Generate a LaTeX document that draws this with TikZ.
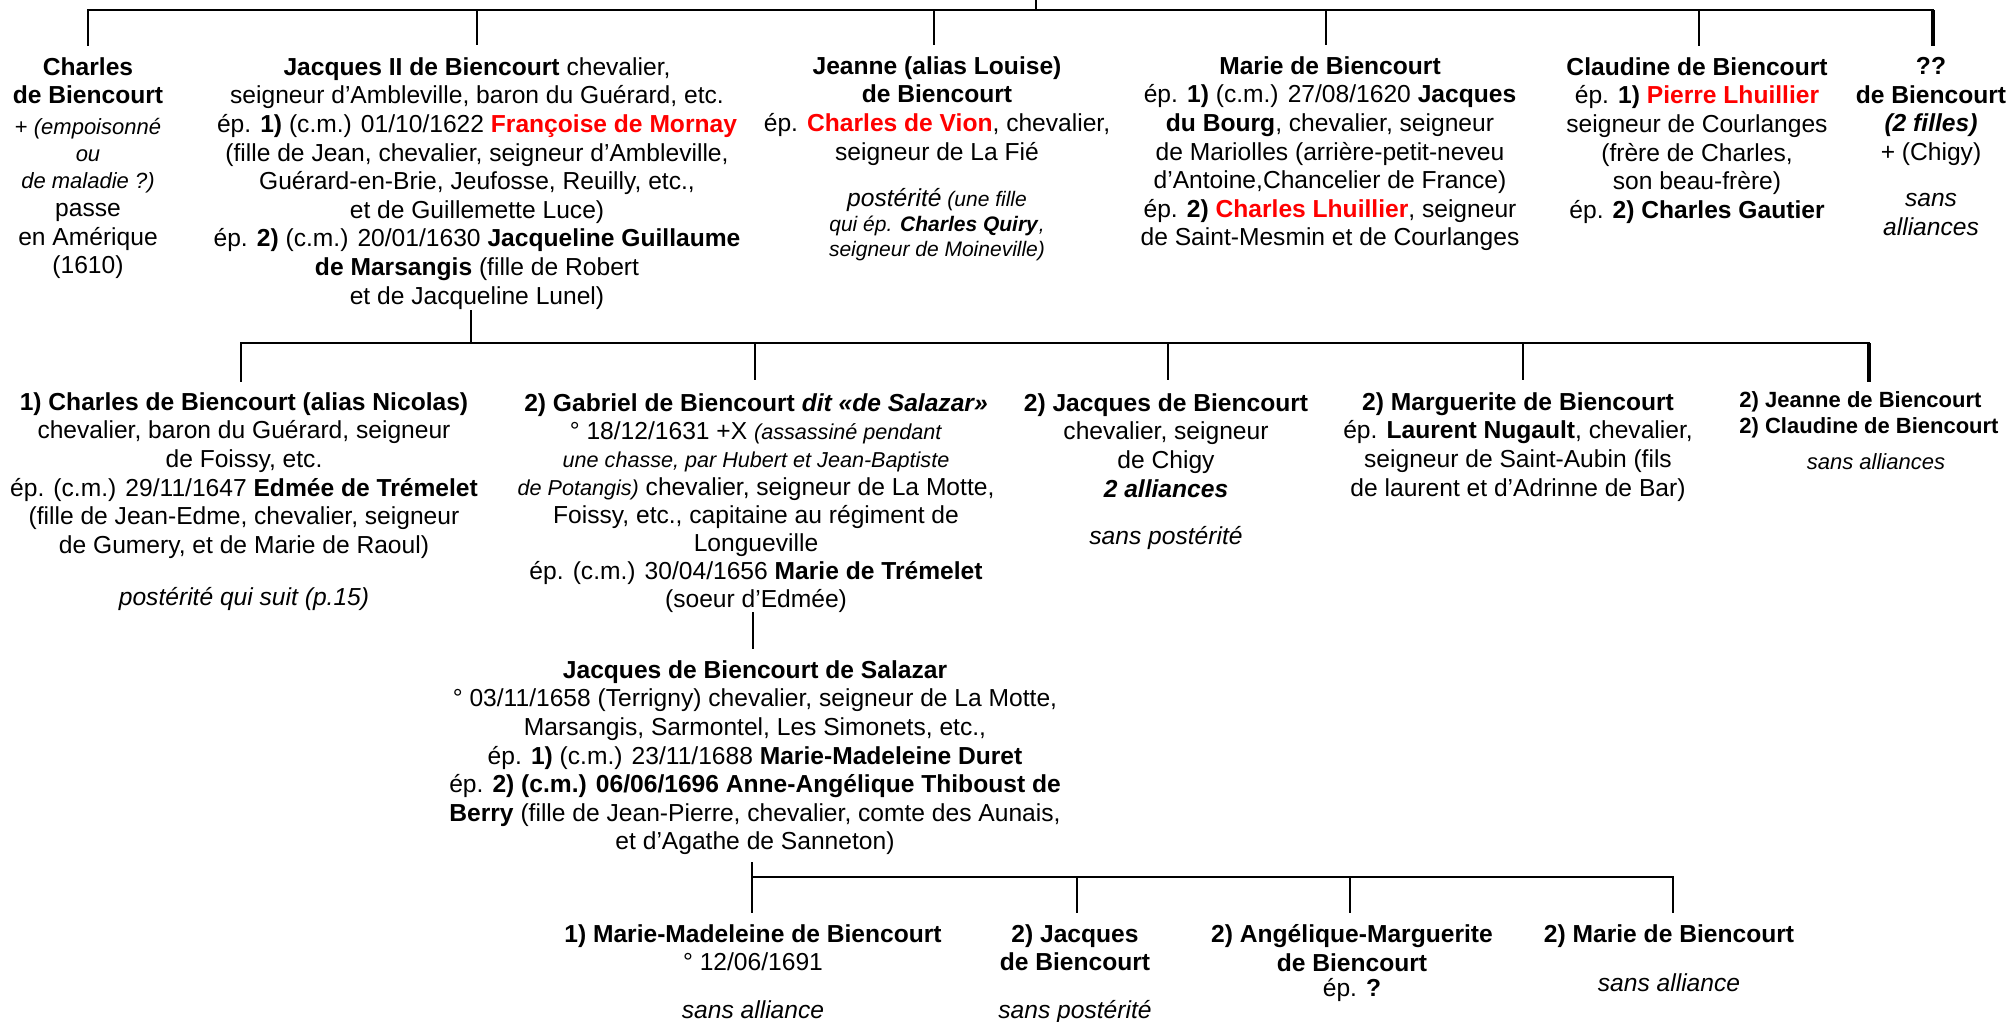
\documentclass[tikz,border=0pt]{standalone}
\usepackage{fontspec}
\setmainfont{Liberation Sans}
\newcommand\fnorm{\fontsize{12.3}{14.3}\selectfont}
\newcommand\fsmall{\fontsize{11}{13.5}\selectfont}
\newcommand\rb[1]{\textcolor{red}{\textbf{#1}}}
\tikzset{
  blk/.style={align=center, inner sep=0pt, anchor=north, font=\fnorm},
  sblk/.style={blk, font=\fsmall},
  bus/.style={line width=1pt, line cap=rect},
  heavy/.style={line width=2.2pt},
}
\begin{document}
\begin{tikzpicture}[x=0.5pt,y=-0.5pt]
\useasboundingbox (0,0) rectangle (2007,1022);
\fill[white] (0,0) rectangle (2007,1022);

% ---------- row 1 ----------
\node[blk, font=\fnorm\bfseries] (n11a) at (88,57) {Charles\\de Biencourt};
\node[sblk] (n11b) at (88,118) {+ \textit{(empoisonné}\\\textit{ou}\\\textit{de maladie ?)}};
\node[blk] (n11c) at (88,203) {passe\\en Amérique\\(1610)};

\node[blk] (n12) at (477,57) {\textbf{Jacques II de Biencourt} chevalier,\\
seigneur d’Ambleville, baron du Guérard, etc.\\
ép. \textbf{1)} (c.m.) 01/10/1622 \rb{Françoise de Mornay}\\
(fille de Jean, chevalier, seigneur d’Ambleville,\\
Guérard-en-Brie, Jeufosse, Reuilly, etc.,\\
et de Guillemette Luce)\\
ép. \textbf{2)} (c.m.) 20/01/1630 \textbf{Jacqueline Guillaume}\\
\textbf{de Marsangis} (fille de Robert\\
et de Jacqueline Lunel)};

\node[blk] (n13) at (937,56) {\textbf{Jeanne (alias Louise)}\\
\textbf{de Biencourt}\\
ép. \rb{Charles de Vion}, chevalier,\\
seigneur de La Fié};
\node[blk, font=\fontsize{10.5}{12.5}\selectfont] (n13p) at (937,188) {{\fnorm\textit{postérité}} \textit{(une fille}\\
\textit{qui ép.} \textbf{\textit{Charles Quiry}}\textit{,}\\
\textit{seigneur de Moineville)}};

\node[blk] (n14) at (1330,56) {\textbf{Marie de Biencourt}\\
ép. \textbf{1)} (c.m.) 27/08/1620 \textbf{Jacques}\\
\textbf{du Bourg}, chevalier, seigneur\\
de Mariolles (arrière-petit-neveu\\
d’Antoine,Chancelier de France)\\
ép. \textbf{2)} \rb{Charles Lhuillier}, seigneur\\
de Saint-Mesmin et de Courlanges};

\node[blk] (n15) at (1697,57) {\textbf{Claudine de Biencourt}\\
ép. \textbf{1)} \rb{Pierre Lhuillier}\\
seigneur de Courlanges\\
(frère de Charles,\\
son beau-frère)\\
ép. \textbf{2) Charles Gautier}};

\node[blk] (n16) at (1931,57) {\textbf{??}\\
\textbf{de Biencourt}\\
\textbf{\textit{(2 filles)}}\\
+ (Chigy)};
\node[blk] (n16s) at (1931,193) {\textit{sans}\\\textit{alliances}};

% ---------- row 2 ----------
\node[blk] (n21) at (244,392) {\textbf{1) Charles de Biencourt (alias Nicolas)}\\
chevalier, baron du Guérard, seigneur\\
de Foissy, etc.\\
ép. (c.m.) 29/11/1647 \textbf{Edmée de Trémelet}\\
(fille de Jean-Edme, chevalier, seigneur\\
de Gumery, et de Marie de Raoul)};
\node[blk] (n21p) at (244,587) {\textit{postérité qui suit (p.15)}};

\node[blk, font=\fontsize{12.3}{14}\selectfont] (n22) at (756,393) {\textbf{2) Gabriel de Biencourt \textit{dit «de Salazar»}}\\
° 18/12/1631 +X {\fontsize{10.8}{13}\selectfont\textit{(assassiné pendant}}\\
{\fontsize{10.8}{13}\selectfont\textit{une chasse, par Hubert et Jean-Baptiste}}\\
{\fontsize{10.8}{13}\selectfont\textit{de Potangis)}} chevalier, seigneur de La Motte,\\
Foissy, etc., capitaine au régiment de\\
Longueville\\
ép. (c.m.) 30/04/1656 \textbf{Marie de Trémelet}\\
(soeur d’Edmée)};

\node[blk] (n23) at (1166,393) {\textbf{2) Jacques de Biencourt}\\
chevalier, seigneur\\
de Chigy\\
\textbf{\textit{2 alliances}}};
\node[blk] (n23p) at (1166,526) {\textit{sans postérité}};

\node[blk] (n24) at (1518,392) {\textbf{2) Marguerite de Biencourt}\\
ép. \textbf{Laurent Nugault}, chevalier,\\
seigneur de Saint-Aubin (fils\\
de laurent et d’Adrinne de Bar)};

\node[align=left, inner sep=0pt, anchor=north west, font=\fontsize{11}{13}\selectfont\bfseries] (n25) at (1739,391) {2) Jeanne de Biencourt\\2) Claudine de Biencourt};
\node[sblk] (n25p) at (1876,453) {\textit{sans alliances}};

% ---------- Salazar ----------
\node[blk] (n3) at (755,660) {\textbf{Jacques de Biencourt de Salazar}\\
° 03/11/1658 (Terrigny) chevalier, seigneur de La Motte,\\
Marsangis, Sarmontel, Les Simonets, etc.,\\
ép. \textbf{1)} (c.m.) 23/11/1688 \textbf{Marie-Madeleine Duret}\\
ép. \textbf{2) (c.m.) 06/06/1696 Anne-Angélique Thiboust de}\\
\textbf{Berry} (fille de Jean-Pierre, chevalier, comte des Aunais,\\
et d’Agathe de Sanneton)};

% ---------- row 3 ----------
\node[blk] (n41) at (753,924) {\textbf{1) Marie-Madeleine de Biencourt}\\° 12/06/1691};
\node[blk] (n41p) at (753,1000) {\textit{sans alliance}};
\node[blk] (n42) at (1075,924) {\textbf{2) Jacques}\\\textbf{de Biencourt}};
\node[blk] (n42p) at (1075,1000) {\textit{sans postérité}};
\node[blk] (n43) at (1352,924) {\textbf{2) Angélique-Marguerite}\\\textbf{de Biencourt}\\[-1.5pt]ép. \textbf{?}};
\node[blk] (n44) at (1669,924) {\textbf{2) Marie de Biencourt}};
\node[blk] (n44p) at (1669,973) {\textit{sans alliance}};

% ---------- connectors ----------
\coordinate (p0) at (1036,0);
\coordinate (p1) at (1036,10);
\coordinate (a1) at (88,10);   \coordinate (a1d) at (88,45);
\coordinate (a2) at (477,10);  \coordinate (a2d) at (477,44);
\coordinate (a3) at (934,10);  \coordinate (a3d) at (934,44);
\coordinate (a4) at (1326,10); \coordinate (a4d) at (1326,44);
\coordinate (a5) at (1699,10); \coordinate (a5d) at (1699,45);
\coordinate (a6) at (1933,10); \coordinate (a6d) at (1933,46);
\draw[bus] (p0) -- (p1);
\draw[bus] (a1d) -- (a1) -- (a6);
\foreach \c in {2,3,4,5} \draw[bus] (a\c) -- (a\c d);
\draw[heavy] (a6) -- (a6d);

\coordinate (q0) at (471,311);
\coordinate (q1) at (471,343);
\coordinate (b1) at (241,343);  \coordinate (b1d) at (241,381);
\coordinate (b2) at (755,343);  \coordinate (b2d) at (755,379);
\coordinate (b3) at (1168,343); \coordinate (b3d) at (1168,379);
\coordinate (b4) at (1523,343); \coordinate (b4d) at (1523,379);
\coordinate (b5) at (1869,343); \coordinate (b5d) at (1869,382);
\draw[bus] (q0) -- (q1);
\draw[bus] (b1d) -- (b1) -- (b5);
\foreach \c in {2,3,4} \draw[bus] (b\c) -- (b\c d);
\draw[heavy] (b5) -- (b5d);

\coordinate (g0) at (753,613);
\coordinate (g1) at (753,648);
\draw[bus] (g0) -- (g1);

\coordinate (s0) at (752,863);
\coordinate (c1) at (752,877);  \coordinate (c1d) at (752,912);
\coordinate (c2) at (1077,877); \coordinate (c2d) at (1077,912);
\coordinate (c3) at (1350,877); \coordinate (c3d) at (1350,912);
\coordinate (c4) at (1673,877); \coordinate (c4d) at (1673,912);
\draw[bus] (s0) -- (c1d);
\draw[bus] (c1) -- (c4) -- (c4d);
\draw[bus] (c2) -- (c2d);
\draw[bus] (c3) -- (c3d);
\end{tikzpicture}
\end{document}
